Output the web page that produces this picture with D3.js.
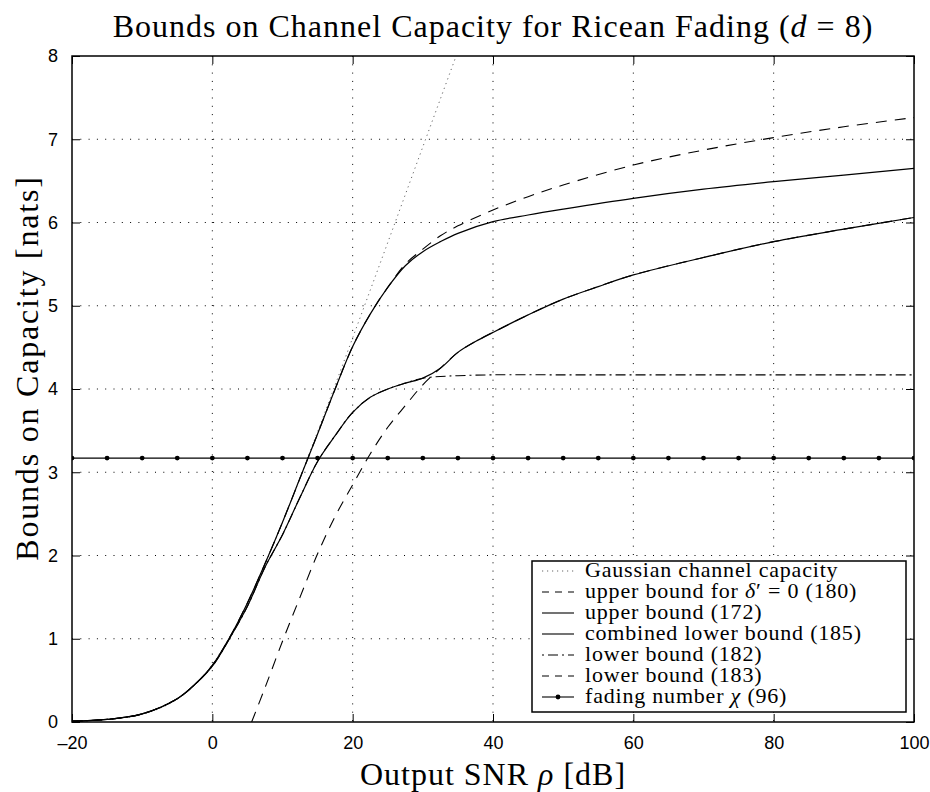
<!DOCTYPE html>
<html>
<head>
<meta charset="utf-8">
<script src="https://cdn.jsdelivr.net/npm/d3@7"></script>
<style>
  body { margin: 0; background: #fff; }
  svg { display: block; }
  .tick text { font-family: "Liberation Sans", Arial, sans-serif; font-size: 18px; fill: #000; }
</style>
</head>
<body>
<svg id="chart" width="930" height="792"></svg>
<script>
// ---- data (SNR in dB, capacity in nats) ----
var gaussSnr = [-20, -17.5, -15, -12.5, -10, -7.5, -5, -2.5, 0, 2.5, 5, 7.5, 10, 12.5, 15, 17.5, 20, 22.5, 25, 27.5, 30, 32.5, 35];
var gaussCap = [0.010, 0.018, 0.031, 0.055, 0.095, 0.164, 0.275, 0.446, 0.693, 1.022, 1.426, 1.891, 2.398, 2.933, 3.485, 4.047, 4.615, 5.186, 5.759, 6.334, 6.909, 7.484, 8.059];

var upperSnr = [-20, -15, -10, -5, -2.5, 0, 2.5, 5, 7.5, 10, 12.5, 15, 17.5, 20, 22.5, 25, 27.5, 30, 32.5, 35, 40, 45, 50, 60, 70, 80, 90, 100];
var upperCap = [0.010, 0.031, 0.097, 0.28, 0.45, 0.68, 1.02, 1.43, 1.90, 2.40, 2.93, 3.46, 4.00, 4.51, 4.90, 5.22, 5.48, 5.65, 5.77, 5.87, 6.01, 6.09, 6.16, 6.29, 6.40, 6.49, 6.57, 6.65];

var delta0Snr = [-20, -15, -10, -5, -2.5, 0, 2.5, 5, 7.5, 10, 12.5, 15, 17.5, 20, 22.5, 25, 27.5, 30, 32.5, 35, 40, 45, 50, 60, 70, 80, 90, 100];
var delta0Cap = [0.010, 0.031, 0.097, 0.28, 0.45, 0.68, 1.02, 1.43, 1.90, 2.40, 2.93, 3.46, 4.00, 4.51, 4.90, 5.22, 5.50, 5.68, 5.84, 5.96, 6.15, 6.31, 6.45, 6.69, 6.87, 7.02, 7.15, 7.26];

var combSnr = [-20, -15, -10, -5, -2.5, 0, 2.5, 5, 7.5, 10, 12.5, 15, 17.5, 20, 22.5, 25, 27.5, 30, 32.5, 35, 37.5, 40, 45, 50, 55, 60, 70, 80, 90, 100];
var combCap = [0.010, 0.031, 0.097, 0.28, 0.45, 0.67, 1.01, 1.39, 1.86, 2.25, 2.70, 3.13, 3.44, 3.72, 3.90, 4.00, 4.07, 4.13, 4.25, 4.44, 4.57, 4.68, 4.89, 5.08, 5.23, 5.37, 5.58, 5.77, 5.92, 6.06];

var lb182Snr = [-20, -15, -10, -5, -2.5, 0, 2.5, 5, 7.5, 10, 12.5, 15, 17.5, 20, 22.5, 25, 27.5, 30, 32.5, 35, 40, 50, 60, 70, 80, 90, 100];
var lb182Cap = [0.010, 0.031, 0.097, 0.28, 0.45, 0.67, 1.01, 1.39, 1.86, 2.25, 2.70, 3.13, 3.44, 3.72, 3.90, 4.00, 4.07, 4.13, 4.15, 4.16, 4.17, 4.17, 4.17, 4.17, 4.17, 4.17, 4.17];

var lb183Snr = [5.6, 7.5, 10, 12.5, 15, 17.5, 20, 22.5, 25, 27.5, 30, 32.5, 35, 37.5, 40, 45, 50, 55, 60, 70, 80, 90, 100];
var lb183Cap = [0.00, 0.41, 0.97, 1.50, 2.02, 2.47, 2.85, 3.22, 3.54, 3.80, 4.05, 4.25, 4.44, 4.57, 4.68, 4.89, 5.08, 5.23, 5.37, 5.58, 5.77, 5.92, 6.06];

var chiSnr = [-20, -15, -10, -5, 0, 5, 10, 15, 20, 25, 30, 35, 40, 45, 50, 55, 60, 65, 70, 75, 80, 85, 90, 95, 100];
var chiValue = 3.17;

var xTicks = [-20, 0, 20, 40, 60, 80, 100];
var yTicks = [0, 1, 2, 3, 4, 5, 6, 7, 8];

(function () {
  // ---- layout ----
  var svg = d3.select('#chart');
  var plotLeft = 72, plotRight = 914, plotTop = 56, plotBottom = 722;

  var x = d3.scaleLinear().domain([-20, 100]).range([plotLeft, plotRight]);
  var y = d3.scaleLinear().domain([0, 8]).range([plotBottom, plotTop]);

  svg.append('defs').append('clipPath').attr('id', 'plotclip')
    .append('rect')
    .attr('x', plotLeft).attr('y', plotTop)
    .attr('width', plotRight - plotLeft).attr('height', plotBottom - plotTop);

  // grid
  var grid = svg.append('g').attr('class', 'grid');
  grid.selectAll('.vgrid')
    .data(xTicks.slice(1, -1))
    .join('line')
    .attr('x1', function (d) { return x(d); })
    .attr('x2', function (d) { return x(d); })
    .attr('y1', plotTop).attr('y2', plotBottom)
    .attr('stroke', '#000').attr('stroke-width', 1)
    .attr('stroke-dasharray', '1,7.3');
  grid.selectAll('.hgrid')
    .data(yTicks.slice(1, -1))
    .join('line')
    .attr('y1', function (d) { return y(d); })
    .attr('y2', function (d) { return y(d); })
    .attr('x1', plotLeft).attr('x2', plotRight)
    .attr('stroke', '#000').attr('stroke-width', 1)
    .attr('stroke-dasharray', '1,7.3');

  // axes (ticks point inward, box on all sides)
  var tickLen = 8;
  svg.append('g')
    .attr('transform', 'translate(0,' + plotBottom + ')')
    .call(d3.axisBottom(x).tickValues(xTicks).tickSize(-tickLen).tickPadding(14)
      .tickFormat(function (d) { return d < 0 ? '\u2013' + Math.abs(d) : d; }))
    .call(function (g) { g.select('.domain').remove(); });
  svg.append('g')
    .attr('transform', 'translate(' + plotLeft + ',0)')
    .call(d3.axisLeft(y).tickValues(yTicks).tickSize(-tickLen).tickPadding(14))
    .call(function (g) { g.select('.domain').remove(); });
  svg.append('g')
    .attr('transform', 'translate(0,' + plotTop + ')')
    .call(d3.axisTop(x).tickValues(xTicks).tickSize(-tickLen).tickFormat(''))
    .call(function (g) { g.select('.domain').remove(); });
  svg.append('g')
    .attr('transform', 'translate(' + plotRight + ',0)')
    .call(d3.axisRight(y).tickValues(yTicks).tickSize(-tickLen).tickFormat(''))
    .call(function (g) { g.select('.domain').remove(); });
  svg.selectAll('.tick line').attr('stroke', '#000').attr('stroke-width', 1);

  // curves
  var plot = svg.append('g').attr('clip-path', 'url(#plotclip)');

  function curve(xs, ys) {
    return d3.line()
      .x(function (d, i) { return x(xs[i]); })
      .y(function (d, i) { return y(ys[i]); })
      .curve(d3.curveCatmullRom.alpha(0.5))(ys);
  }

  var series = [
    { xs: gaussSnr, ys: gaussCap, dash: '1.2,3.8', color: '#666', width: 1 },
    { xs: upperSnr, ys: upperCap, dash: null, color: '#000', width: 1.2 },
    { xs: combSnr, ys: combCap, dash: null, color: '#000', width: 1.2 },
    { xs: lb182Snr, ys: lb182Cap, dash: '10,4,2,4', color: '#000', width: 1.1 },
    { xs: lb183Snr, ys: lb183Cap, dash: '11,8', color: '#000', width: 1.1 },
    { xs: delta0Snr, ys: delta0Cap, dash: '11,8', color: '#000', width: 1.1 }
  ];

  plot.selectAll('.series')
    .data(series)
    .join('path')
    .attr('class', 'series')
    .attr('d', function (s) { return curve(s.xs, s.ys); })
    .attr('fill', 'none')
    .attr('stroke', function (s) { return s.color; })
    .attr('stroke-width', function (s) { return s.width; })
    .attr('stroke-dasharray', function (s) { return s.dash; });

  // fading number
  plot.append('line')
    .attr('x1', x(-20)).attr('x2', x(100))
    .attr('y1', y(chiValue)).attr('y2', y(chiValue))
    .attr('stroke', '#000').attr('stroke-width', 1.3);
  plot.selectAll('.chi')
    .data(chiSnr)
    .join('circle')
    .attr('cx', function (d) { return x(d); })
    .attr('cy', y(chiValue))
    .attr('r', 2.4)
    .attr('fill', '#000');

  // frame
  svg.append('rect')
    .attr('x', plotLeft).attr('y', plotTop)
    .attr('width', plotRight - plotLeft).attr('height', plotBottom - plotTop)
    .attr('fill', 'none').attr('stroke', '#000').attr('stroke-width', 1.5);

  // titles
  var serif = '"Liberation Serif", "Times New Roman", serif';
  var title = svg.append('text')
    .attr('x', (plotLeft + plotRight) / 2).attr('y', 37)
    .attr('text-anchor', 'middle')
    .style('font-family', serif).style('font-size', '32px').style('letter-spacing', '1px');
  title.append('tspan').text('Bounds on Channel Capacity for Ricean Fading (');
  title.append('tspan').style('font-style', 'italic').text('d');
  title.append('tspan').text(' = 8)');

  var xlab = svg.append('text')
    .attr('x', (plotLeft + plotRight) / 2).attr('y', 785)
    .attr('text-anchor', 'middle')
    .style('font-family', serif).style('font-size', '32px').style('letter-spacing', '1px');
  xlab.append('tspan').text('Output SNR ');
  xlab.append('tspan').style('font-style', 'italic').text('ρ');
  xlab.append('tspan').text(' [dB]');

  svg.append('text')
    .attr('transform', 'translate(38,368) rotate(-90)')
    .attr('text-anchor', 'middle')
    .style('font-family', serif).style('font-size', '32px').style('letter-spacing', '1.8px')
    .text('Bounds on Capacity [nats]');

  // legend
  var legendItems = [
    { parts: [['Gaussian channel capacity', 0]], dash: '1.2,3.8', color: '#666', marker: false },
    { parts: [['upper bound for ', 0], ['δ', 1], ['′ = 0 (180)', 0]], dash: '7,6', color: '#000', marker: false },
    { parts: [['upper bound (172)', 0]], dash: null, color: '#000', marker: false },
    { parts: [['combined lower bound (185)', 0]], dash: null, color: '#000', marker: false },
    { parts: [['lower bound (182)', 0]], dash: '2,4,10,4', color: '#000', marker: false },
    { parts: [['lower bound (183)', 0]], dash: '7,6', color: '#000', marker: false },
    { parts: [['fading number ', 0], ['χ', 1], [' (96)', 0]], dash: null, color: '#000', marker: true }
  ];

  var lg = svg.append('g');
  lg.append('rect')
    .attr('x', 532).attr('y', 561).attr('width', 374).attr('height', 151)
    .attr('fill', '#fff').attr('stroke', '#000').attr('stroke-width', 1.5);

  var rows = lg.selectAll('.row')
    .data(legendItems)
    .join('g')
    .attr('transform', function (d, i) { return 'translate(0,' + (571 + i * 21) + ')'; });
  rows.append('line')
    .attr('x1', 542).attr('x2', 574).attr('y1', 0).attr('y2', 0)
    .attr('stroke', function (d) { return d.color; })
    .attr('stroke-width', 1.1)
    .attr('stroke-dasharray', function (d) { return d.dash; });
  rows.filter(function (d) { return d.marker; })
    .append('circle').attr('cx', 558).attr('cy', 0).attr('r', 2.4).attr('fill', '#000');
  rows.append('text')
    .attr('x', 585).attr('y', 6)
    .style('font-family', serif).style('font-size', '22px').style('letter-spacing', '0.8px')
    .selectAll('tspan')
    .data(function (d) { return d.parts; })
    .join('tspan')
    .style('font-style', function (p) { return p[1] ? 'italic' : 'normal'; })
    .text(function (p) { return p[0]; });
})();
</script>
</body>
</html>
